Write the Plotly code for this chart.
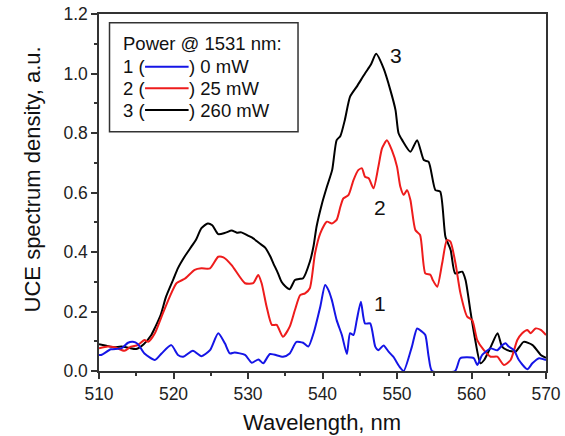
import plotly.graph_objects as go

# Curve 3 (260 mW) - black
x3 = [510, 511, 512, 513, 514, 515, 516, 517, 517.5, 518.3,
      519, 520, 520.6, 521.5, 522.4, 523, 523.75, 524.6, 525.2, 526,
      527, 527.8, 528.5, 529.1, 530, 530.7, 531.5, 532.3, 533, 533.4,
      534, 534.5, 535, 535.6, 536.3, 537, 537.4, 538.3, 538.8, 539.2,
      539.9, 540.6, 541.3, 541.9, 542.4, 543.0, 543.7, 544.6, 545.7, 546.5,
      547.2, 548.2, 549.1, 549.8, 550.2, 550.7, 551.8, 552.7, 553.6, 554.25,
      555.15, 555.8, 556.5, 557.2, 557.8, 558.75, 559.2, 559.9, 560.5, 561.2,
      561.7, 562.6, 563.5, 564.1, 564.8, 565.9, 567.0, 568.2, 569.3, 570]
y3 = [0.09, 0.085, 0.08, 0.082, 0.078, 0.074, 0.09, 0.12, 0.145, 0.19,
      0.25, 0.31, 0.346, 0.385, 0.418, 0.44, 0.48, 0.496, 0.49, 0.46,
      0.465, 0.472, 0.465, 0.466, 0.455, 0.446, 0.43, 0.415, 0.385, 0.362,
      0.33, 0.30, 0.285, 0.275, 0.306, 0.31, 0.312, 0.367, 0.42, 0.485,
      0.56, 0.62, 0.676, 0.776, 0.79, 0.844, 0.922, 0.956, 1.0, 1.03,
      1.066, 1.017, 0.945, 0.877, 0.80, 0.776, 0.737, 0.776, 0.709, 0.703,
      0.608, 0.603, 0.451, 0.407, 0.328, 0.334, 0.306, 0.194, 0.104, 0.026,
      0.037, 0.082, 0.127, 0.082, 0.07, 0.065, 0.098, 0.087, 0.054, 0.044]

# Curve 2 (25 mW) - red
x2 = [510, 511.2, 512.3, 513.4, 514.3, 515.2, 516.1, 516.6, 517.5, 518.4,
      519.5, 520.4, 521.5, 522.85, 523.75, 524.9, 526, 526.7, 527.8, 529.6,
      530.7, 531.37, 531.83, 532.5, 533.2, 533.85, 534.7, 535.6, 536.3, 537.0,
      537.66, 538.3, 539.0, 539.7, 540.6, 541.25, 541.9, 542.4, 542.8, 543.5,
      544.16, 544.83, 545.3, 545.7, 546.2, 546.85, 547.5, 548.0, 548.65, 549.3,
      550.0, 550.44, 550.9, 551.35, 551.8, 552.46, 553.1, 553.8, 554.5, 554.8,
      555.4, 556.06, 556.7, 557.17, 557.85, 558.52, 559.42, 560.1, 560.77, 561.66,
      562.56, 563.46, 564.35, 565.25, 566.15, 566.8, 567.5, 567.94, 568.6, 569.3,
      570]
y2 = [0.076, 0.082, 0.078, 0.068, 0.082, 0.087, 0.104, 0.098, 0.127, 0.183,
      0.25, 0.295, 0.31, 0.34, 0.345, 0.345, 0.384, 0.382, 0.356, 0.295,
      0.295, 0.323, 0.295, 0.216, 0.155, 0.155, 0.115, 0.149, 0.205, 0.255,
      0.261, 0.278, 0.396, 0.463, 0.502, 0.496, 0.508, 0.552, 0.58, 0.592,
      0.642, 0.676, 0.681, 0.653, 0.648, 0.614, 0.687, 0.749, 0.776, 0.743,
      0.687, 0.62, 0.592, 0.608, 0.575, 0.474, 0.457, 0.328, 0.323, 0.306,
      0.283, 0.362, 0.44, 0.435, 0.362, 0.261, 0.183, 0.171, 0.104, 0.07,
      0.048, 0.048, 0.02, 0.037, 0.104, 0.127, 0.138, 0.127, 0.143, 0.138,
      0.121]

# Curve 1 (0 mW) - blue
x1 = [510, 510.3, 511.6, 513, 513.9, 514.55, 515.2, 516.1, 517.5, 518.4,
      519.7, 520.6, 521.3, 522.6, 523.75, 524.9, 526, 526.9, 527.56, 528.2,
      529.6, 530.5, 531.4, 532.05, 532.95, 534.7, 535.6, 536.5, 537.4, 538.1,
      538.8, 539.7, 540.35, 540.8, 541.25, 541.9, 542.6, 543.27, 543.7, 544.16,
      544.6, 545.15, 545.7, 546.4, 547.08, 547.5, 548.2, 548.87, 549.5, 550.35,
      550.9, 552.0, 552.7, 553.36, 553.8, 554.25, 554.7, 557.8, 558.5, 560.3,
      560.77, 561.44, 562.56, 563.46, 564.13, 564.58, 565.0, 565.7, 566.36, 567.5,
      568.17, 569.06, 570]
y1 = [0.054, 0.054, 0.073, 0.076, 0.095, 0.098, 0.091, 0.059, 0.037, 0.059,
      0.087, 0.054, 0.048, 0.068, 0.05, 0.07, 0.127, 0.093, 0.059, 0.062,
      0.054, 0.028, 0.039, 0.026, 0.057, 0.048, 0.059, 0.098, 0.095, 0.082,
      0.127, 0.216, 0.289, 0.272, 0.239, 0.171, 0.121, 0.057, 0.127, 0.121,
      0.171, 0.233, 0.16, 0.16, 0.082, 0.07, 0.086, 0.065, 0.048, 0.014,
      0.0, 0.082, 0.143, 0.132, 0.121, 0.048, 0.0, 0.0, 0.043, 0.043,
      0.02, 0.054, 0.076, 0.07, 0.087, 0.093, 0.082, 0.07, 0.037, 0.006,
      0.026, 0.043, 0.037]

x_ticks = [510, 520, 530, 540, 550, 560, 570]
y_ticks = [0.0, 0.2, 0.4, 0.6, 0.8, 1.0, 1.2]
y_ticklabels = ["0.0", "0.2", "0.4", "0.6", "0.8", "1.0", "1.2"]

legend_title = "Power @ 1531 nm:"
legend_nums = ["1 (", "2 (", "3 ("]
legend_powers = [") 0 mW", ") 25 mW", ") 260 mW"]
colors = ["#1515e6", "#ee1c1c", "#000000"]

curve_labels = ["1", "2", "3"]
label_pos = [(547.7, 0.228), (547.75, 0.548), (549.8, 1.062)]

FONT = "Liberation Sans, Arial, sans-serif"

fig = go.Figure()
for xs, ys, c in [(x3, y3, colors[2]), (x2, y2, colors[1]), (x1, y1, colors[0])]:
    fig.add_trace(go.Scatter(x=xs, y=ys, mode="lines",
                             line=dict(color=c, width=2, shape="spline", smoothing=0.6),
                             showlegend=False, hoverinfo="skip"))

ann = []
for t, (xx, yy) in zip(curve_labels, label_pos):
    ann.append(dict(x=xx, y=yy, xref="x", yref="y", text=t, showarrow=False,
                    xanchor="center", yanchor="middle",
                    font=dict(family=FONT, size=21, color="#111")))

W = 446.5
H = 357.0
def px(p):
    return (p - 99.5) / W
def py(p):
    return (371 - p) / H

# axis titles
ann.append(dict(x=px(322), y=py(422), xref="paper", yref="paper", text="Wavelength, nm",
                xanchor="center", yanchor="middle",
                showarrow=False, font=dict(family=FONT, size=22, color="#111")))
ann.append(dict(x=px(33), y=py(179), xref="paper", yref="paper",
                text="UCE spectrum density, a.u.", textangle=-90,
                xanchor="center", yanchor="middle",
                showarrow=False, font=dict(family=FONT, size=22, color="#111")))

# legend box
shapes = [dict(type="rect", xref="paper", yref="paper",
               x0=px(110), x1=px(298.3), y0=py(131.7), y1=py(22.7),
               line=dict(color="#333", width=1.5), fillcolor="white", layer="above")]
ann.append(dict(x=px(121), y=py(43.3), xref="paper", yref="paper", text=legend_title,
                xanchor="left", yanchor="middle", showarrow=False,
                font=dict(family=FONT, size=18.5, color="#111")))
row_y = [66.7, 88.3, 110.0]
for i in range(3):
    ann.append(dict(x=px(121), y=py(row_y[i]), xref="paper", yref="paper", text=legend_nums[i],
                    xanchor="left", yanchor="middle", showarrow=False,
                    font=dict(family=FONT, size=18.5, color="#111")))
    ann.append(dict(x=px(187.5), y=py(row_y[i]), xref="paper", yref="paper", text=legend_powers[i],
                    xanchor="left", yanchor="middle", showarrow=False,
                    font=dict(family=FONT, size=18.5, color="#111")))
    shapes.append(dict(type="line", xref="paper", yref="paper",
                       x0=px(145.5), x1=px(189), y0=py(row_y[i]), y1=py(row_y[i]),
                       line=dict(color=colors[i], width=2), layer="above"))

fig.update_layout(
    width=565, height=436,
    margin=dict(l=99, r=19, t=14, b=65, autoexpand=False),
    paper_bgcolor="white", plot_bgcolor="white",
    annotations=ann, shapes=shapes,
    font=dict(family=FONT, color="#222"),
    xaxis=dict(range=[510, 570], tickvals=x_ticks, ticks="outside", ticklen=6, tickwidth=1.5,
               tickcolor="#333", showline=True, linewidth=1.5, linecolor="#333", mirror=True,
               automargin=False,
               showgrid=False, zeroline=False, tickfont=dict(family=FONT, size=17.5, color="#222"),
               minor=dict(dtick=5, ticks="outside", ticklen=3, tickwidth=1.5, tickcolor="#333",
                          showgrid=False)),
    yaxis=dict(range=[0, 1.2], tickvals=y_ticks, ticktext=y_ticklabels, ticks="outside",
               ticklen=6, tickwidth=1.5, tickcolor="#333", showline=True, linewidth=1.5,
               linecolor="#333", mirror=True, showgrid=False, zeroline=False, automargin=False,
               tickfont=dict(family=FONT, size=17.5, color="#222"),
               minor=dict(dtick=0.1, ticks="outside", ticklen=3, tickwidth=1.5, tickcolor="#333",
                          showgrid=False)),
)

fig.write_html("out.html")
